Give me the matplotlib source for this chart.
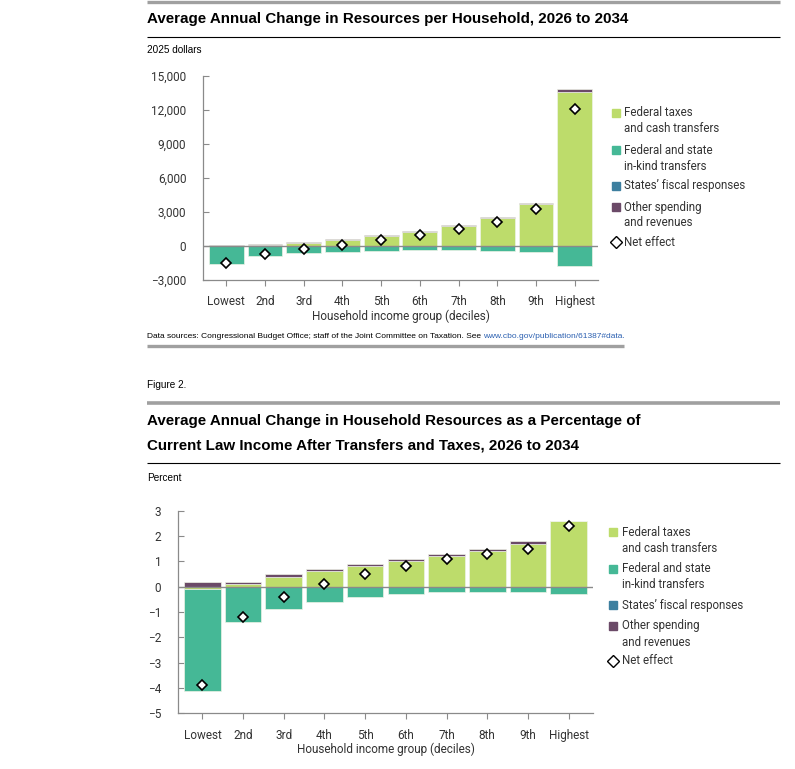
import matplotlib
matplotlib.use("Agg")
import matplotlib.pyplot as plt
from matplotlib.lines import Line2D
from matplotlib.patches import Rectangle
import numpy as np

# ---- data ----
groups = ["Lowest", "2nd", "3rd", "4th", "5th", "6th", "7th", "8th", "9th", "Highest"]

# figure 1: 2025 dollars per household
fed_cash_1 = [-30, 100, 300, 520, 880, 1270, 1780, 2440, 3670, 13590]
inkind_1 = [-1600, -880, -650, -500, -430, -350, -350, -410, -500, -1735]
states_1 = [0, 0, 0, 0, 0, 0, 0, 0, 0, 0]
other_1 = [60, 80, 60, 70, 80, 80, 100, 120, 130, 230]
net_1 = [-1530, -720, -290, 90, 520, 1000, 1500, 2150, 3280, 12060]

# figure 2: percent of current law income
fed_cash_2 = [-0.1, 0.1, 0.4, 0.6, 0.8, 1.0, 1.2, 1.4, 1.7, 2.6]
inkind_2 = [-4.0, -1.4, -0.9, -0.6, -0.4, -0.3, -0.2, -0.2, -0.2, -0.3]
states_2 = [0, 0, 0, 0, 0, 0, 0, 0, 0, 0]
other_2 = [0.2, 0.1, 0.09, 0.1, 0.1, 0.1, 0.1, 0.1, 0.1, 0.0]
net_2 = [-3.9, -1.2, -0.4, 0.1, 0.5, 0.8, 1.1, 1.3, 1.5, 2.4]

series_names = ["Federal taxes\nand cash transfers", "Federal and state\nin-kind transfers",
                "States\u2019 fiscal responses", "Other spending\nand revenues"]
colors = ["#bddc6b", "#45b896", "#3d7f9f", "#6b4a68"]

W, H = 795, 769
TITLE_FONT = ["Liberation Sans", "DejaVu Sans"]
BODY_FONT = ["Roboto", "DejaVu Sans"]
TITLE_SIZE = 10.9
NOTE_SIZE = 7.2
SRC_SIZE = 6.0


def fx(x):
    return x / W


def fy(y):
    return 1 - y / H


def hline(fig, x0, x1, y, color, lw):
    fig.add_artist(Line2D([fx(x0), fx(x1)], [fy(y), fy(y)], color=color, lw=lw,
                          solid_capstyle="butt"))


def draw_bars(ax, series, net, yticks, fmt):
    x = np.arange(len(groups))
    pos = np.zeros(len(groups))
    neg = np.zeros(len(groups))
    for vals, c in zip(series, colors):
        v = np.array(vals, dtype=float)
        bottom = np.where(v >= 0, pos, neg)
        ax.bar(x, v, 0.9, bottom=bottom, color=c, edgecolor="#eef3e6", linewidth=0.5, zorder=2)
        pos = pos + np.where(v >= 0, v, 0)
        neg = neg + np.where(v < 0, v, 0)
    ax.axhline(0, color="#8a8a8a", lw=1, zorder=3)
    ax.plot(x, net, "D", ms=5.3, mfc="white", mec="black", mew=1.2, zorder=4)
    ax.set_xlim(-0.6, 9.6)
    ax.set_ylim(yticks[0], yticks[-1])
    ax.set_yticks(yticks)
    ax.set_yticklabels([fmt(t) for t in yticks], family=BODY_FONT, fontsize=8.5, color="#333333")
    ax.set_xticks(x)
    ax.set_xticklabels(groups, family=BODY_FONT, fontsize=8.5, color="#333333")
    ax.set_xlabel("Household income group (deciles)", family=BODY_FONT, fontsize=8.5,
                  color="#333333", labelpad=1)
    for s in ["top", "right"]:
        ax.spines[s].set_visible(False)
    for s in ["left", "bottom"]:
        ax.spines[s].set_color("#8a8a8a")
        ax.spines[s].set_linewidth(0.9)
    ax.tick_params(axis="y", direction="in", length=4, color="#8a8a8a", pad=12)
    ax.tick_params(axis="x", direction="out", length=4, color="#8a8a8a", pad=7)
    ax.set_facecolor("none")


def draw_legend(fig, x_sq, x_txt, y0):
    offsets = [0, 37, 73, 94]
    for name, c, off in zip(series_names, colors, offsets):
        y = y0 + off
        fig.add_artist(Rectangle((fx(x_sq), fy(y + 4)), 8 / W, 8 / H, color=c,
                                 transform=fig.transFigure))
        for i, line in enumerate(name.split("\n")):
            fig.text(fx(x_txt), fy(y + 16 * i), line, family=BODY_FONT, fontsize=8.3,
                     color="#333333", va="center", ha="left")
    y = y0 + 129
    fig.add_artist(Line2D([fx(x_sq + 4)], [fy(y)], marker="D", ms=6, mfc="white",
                          mec="black", mew=1.0, transform=fig.transFigure))
    fig.text(fx(x_txt), fy(y), "Net effect", family=BODY_FONT, fontsize=8.3,
             color="#333333", va="center", ha="left")


fig = plt.figure(figsize=(W / 100, H / 100), dpi=100)

# header of figure 1
hline(fig, 147, 780, 1.5, "#a0a0a0", 2.4)
fig.text(fx(147), fy(19), "Average Annual Change in Resources per Household, 2026 to 2034",
         family=TITLE_FONT, fontsize=TITLE_SIZE, fontweight="bold", va="center", ha="left")
hline(fig, 147, 780, 37, "black", 0.8)
fig.text(fx(147), fy(50), "2025 dollars", family=TITLE_FONT, fontsize=NOTE_SIZE,
         va="center", ha="left")

ax1 = fig.add_axes([fx(203), fy(280), (598 - 203) / W, (280 - 76) / H])
draw_bars(ax1, [fed_cash_1, inkind_1, states_1, other_1], net_1,
          [-3000, 0, 3000, 6000, 9000, 12000, 15000],
          lambda t: f"{t:,.0f}".replace("-", "\u2212"))
draw_legend(fig, 612, 624, 113)

# sources
src = fig.text(fx(147), fy(336), "Data sources: Congressional Budget Office; staff of the Joint "
               "Committee on Taxation. See ", family=TITLE_FONT, fontsize=SRC_SIZE,
               va="center", ha="left")
fig.canvas.draw()
bb = src.get_window_extent()
fig.text(bb.x1 / W, fy(336), "www.cbo.gov/publication/61387#data.", family=TITLE_FONT,
         fontsize=SRC_SIZE, color="#2a5fb0", va="center", ha="left")
hline(fig, 147, 624, 345.5, "#a0a0a0", 2.4)

# figure 2
fig.text(fx(147), fy(385), "Figure 2.", family=TITLE_FONT, fontsize=NOTE_SIZE,
         va="center", ha="left")
hline(fig, 147, 780, 403, "#a0a0a0", 2.6)
fig.text(fx(147), fy(421), "Average Annual Change in Household Resources as a Percentage of",
         family=TITLE_FONT, fontsize=TITLE_SIZE, fontweight="bold", va="center", ha="left")
fig.text(fx(147), fy(445), "Current Law Income After Transfers and Taxes, 2026 to 2034",
         family=TITLE_FONT, fontsize=TITLE_SIZE, fontweight="bold", va="center", ha="left")
hline(fig, 147, 780, 463, "black", 0.8)
fig.text(fx(147), fy(478), "Percent", family=TITLE_FONT, fontsize=NOTE_SIZE,
         va="center", ha="left")

ax2 = fig.add_axes([fx(178), fy(713.3), (593 - 178) / W, (713.3 - 510.7) / H])
draw_bars(ax2, [fed_cash_2, inkind_2, states_2, other_2], net_2,
          [-5, -4, -3, -2, -1, 0, 1, 2, 3],
          lambda t: f"{t:.0f}".replace("-", "\u2212"))
draw_legend(fig, 609, 622, 532)

fig.savefig("out.png", dpi=100)
